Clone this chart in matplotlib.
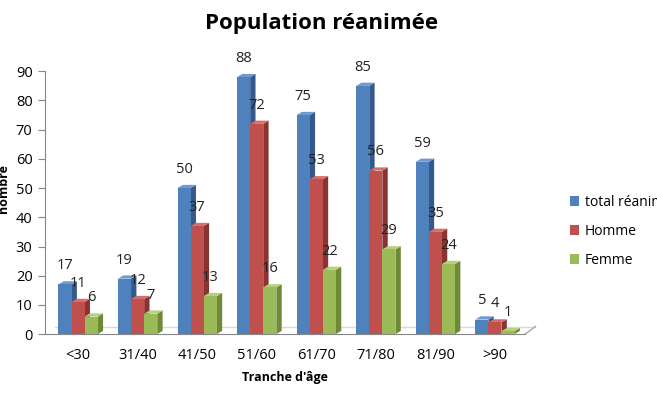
import matplotlib.pyplot as plt
from matplotlib.patches import Polygon, Rectangle

categories = ["<30", "31/40", "41/50", "51/60", "61/70", "71/80", "81/90", ">90"]
total = [17, 19, 50, 88, 75, 85, 59, 5]
homme = [11, 12, 37, 72, 53, 56, 35, 4]
femme = [6, 7, 13, 16, 22, 29, 24, 1]
series_names = ["total réanimé", "Homme", "Femme"]

plt.rcParams['font.family'] = ['Open Sans', 'DejaVu Sans']

# front, top, side colours per series (Excel 2007 palette)
colors = [("#4F81BD", "#6F9AD0", "#34598A"),
          ("#C0504D", "#D46F6C", "#8A3331"),
          ("#9BBB59", "#B4D178", "#6E8A36")]

fig = plt.figure(figsize=(6.57, 4.05), dpi=100)
ax = fig.add_axes([0.0685, 0.175, 0.731, 0.649])
ax.set_xlim(-0.555, 7.51)
ax.set_ylim(0, 90)

w = 0.22
dx = 0.09
dy = 1.1

# floor
ax.plot([-0.555 + 0.17, 7.51 + 0.17], [2.6, 2.6], color="#D9D9D9", lw=1, clip_on=False, zorder=1)
ax.plot([7.51, 7.51 + 0.17], [0, 2.6], color="#A6A6A6", lw=1, clip_on=False, zorder=1)

for s, data in enumerate([total, homme, femme]):
    front, top, side = colors[s]
    for i, v in enumerate(data):
        x0 = i + (s - 1) * w - w / 2
        x1 = x0 + w
        ax.add_patch(Polygon([(x1, 0), (x1 + dx, dy), (x1 + dx, v + dy), (x1, v)],
                             closed=True, fc=side, ec="none", zorder=2 + s, clip_on=False))
        ax.add_patch(Polygon([(x0, v), (x0 + dx, v + dy), (x1 + dx, v + dy), (x1, v)],
                             closed=True, fc=top, ec="none", zorder=2 + s, clip_on=False))
        ax.add_patch(Rectangle((x0, 0), w, v, fc=front, ec="none", zorder=2 + s))
        ax.annotate(str(v), (x0 + w / 2, v), xytext=(0, 8), textcoords="offset points",
                    ha="center", va="bottom", fontsize=10.5, color="#222222", zorder=10)

ax.set_xticks(range(len(categories)))
ax.set_xticklabels(categories, fontsize=10.5)
ax.set_yticks(range(0, 91, 10))
ax.tick_params(axis="y", labelsize=10.5, length=5, color="#868686", pad=4)
ax.tick_params(axis="x", length=0, pad=10)
for sp in ["top", "right"]:
    ax.spines[sp].set_visible(False)
ax.spines["left"].set_color("#868686")
ax.spines["bottom"].set_color("#868686")

ax.set_xlabel("Tranche d'âge", fontsize=9, fontweight="bold", labelpad=6)
fig.text(0.006, 0.535, "nombre", rotation=90, fontsize=9, fontweight="bold",
         ha="center", va="center")
fig.text(0.489, 0.942, "Population réanimée", fontsize=16, fontweight="bold",
         ha="center", va="center")

handles = [Rectangle((0, 0), 1, 1, fc=c[0]) for c in colors]
fig.legend(handles, series_names, loc="upper left", bbox_to_anchor=(0.848, 0.55),
           frameon=False, fontsize=10, handlelength=0.7, handleheight=0.7,
           handletextpad=0.4, labelspacing=1.0)

fig.savefig("out.png", dpi=100)
